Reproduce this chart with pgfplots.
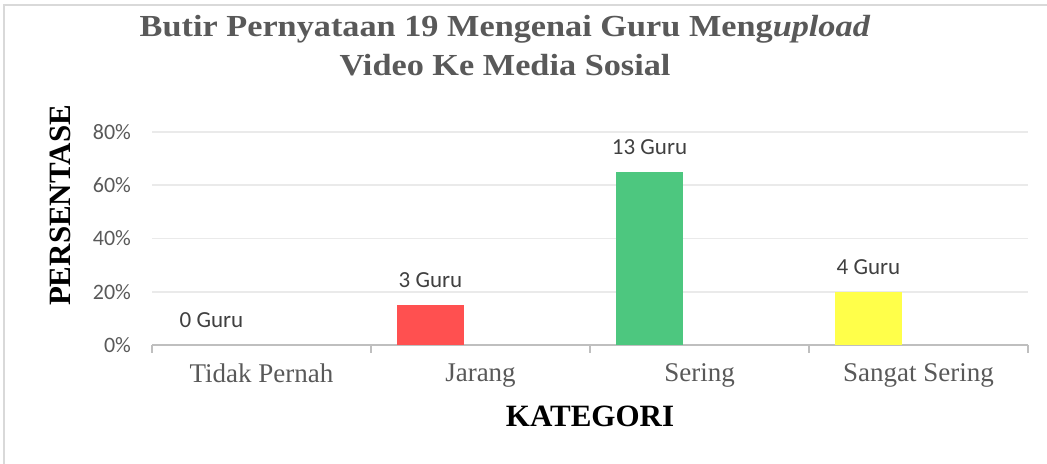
\documentclass[border=0pt]{standalone}
\usepackage{fontspec}
\setmainfont{Liberation Serif}
\newfontfamily\calib{Carlito}
\newfontfamily\titlefont[FakeStretch=1.12]{Liberation Serif}
\usepackage{pgfplots}
\pgfplotsset{compat=1.18}

\definecolor{titlegray}{HTML}{595959}
\definecolor{labgray}{HTML}{404040}
\definecolor{axgray}{HTML}{BFBFBF}
\definecolor{gridgray}{HTML}{EAEAEA}
\definecolor{framegray}{HTML}{D9D9D9}
\definecolor{barred}{HTML}{FF5050}
\definecolor{bargreen}{HTML}{4DC77F}
\definecolor{baryellow}{HTML}{FFFF4A}

\begin{document}
\begin{tikzpicture}
% 1px of the reference = 0.5pt
\useasboundingbox (0,0) rectangle (523.5pt,232pt);
\draw[framegray, line width=0.8pt] (2pt,0pt) -- (2pt,229.5pt) -- (523.5pt,229.5pt);

\node[anchor=base, text=titlegray, font=\titlefont\bfseries\fontsize{15.3}{18}\selectfont]
  at (252.5pt,213.5pt) {Butir Pernyataan 19 Mengenai Guru Meng\textit{upload}};
\node[anchor=base, text=titlegray, font=\titlefont\bfseries\fontsize{15.3}{18}\selectfont]
  at (252.5pt,194pt) {Video Ke Media Sosial};

\begin{axis}[
    scale only axis,
    width=438pt, height=106.5pt,
    at={(76pt,59.5pt)}, anchor=south west,
    xmin=-0.5, xmax=3.5,
    ymin=0, ymax=0.8,
    clip=false,
    axis x line*=bottom,
    axis y line*=left,
    x axis line style={-, draw=axgray, line width=1.2pt},
    y axis line style={draw=none},
    tick align=outside,
    xtick={0,1,2,3},
    xticklabels={Tidak Pernah,Jarang,Sering,Sangat Sering},
    major x tick style={draw=none},
    minor xtick={-0.5,0.5,1.5,2.5,3.5},
    minor x tick style={draw=axgray, line width=1.2pt},
    minor tick length=4pt,
    major tick length=0pt,
    ytick={0,0.2,0.4,0.6,0.8},
    yticklabels={0\%,20\%,40\%,60\%,80\%},
    ytick style={draw=none},
    ymajorgrids,
    grid style={draw=gridgray, line width=0.8pt},
    xticklabel style={font=\fontsize{13.5}{16}\selectfont, text=titlegray, yshift=-6pt},
    yticklabel style={font=\calib\fontsize{11}{13}\selectfont, text=titlegray, xshift=-7pt},
    xlabel={KATEGORI},
    ylabel={PERSENTASE},
    xlabel style={font=\bfseries\fontsize{15.5}{18}\selectfont, at={(axis description cs:0.5,0)}, anchor=base, yshift=-41pt},
    ylabel style={font=\bfseries\fontsize{15.5}{18}\selectfont, at={(axis description cs:-0.105,0.655)}, anchor=center},
    nodes near coords style={font=\calib\fontsize{11.5}{13}\selectfont, text=labgray, xshift=-25pt, yshift=5pt},
  ]
  \addplot[ybar, bar width=0.306, bar shift=-0.228, draw=none, fill=none, nodes near coords={0 Guru}]
    coordinates {(0,0)};
  \addplot[ybar, bar width=0.306, bar shift=-0.228, draw=none, fill=barred, nodes near coords={3 Guru}]
    coordinates {(1,0.15)};
  \addplot[ybar, bar width=0.306, bar shift=-0.228, draw=none, fill=bargreen, nodes near coords={13 Guru}]
    coordinates {(2,0.65)};
  \addplot[ybar, bar width=0.306, bar shift=-0.228, draw=none, fill=baryellow, nodes near coords={4 Guru}]
    coordinates {(3,0.20)};
\end{axis}
\end{tikzpicture}
\end{document}
